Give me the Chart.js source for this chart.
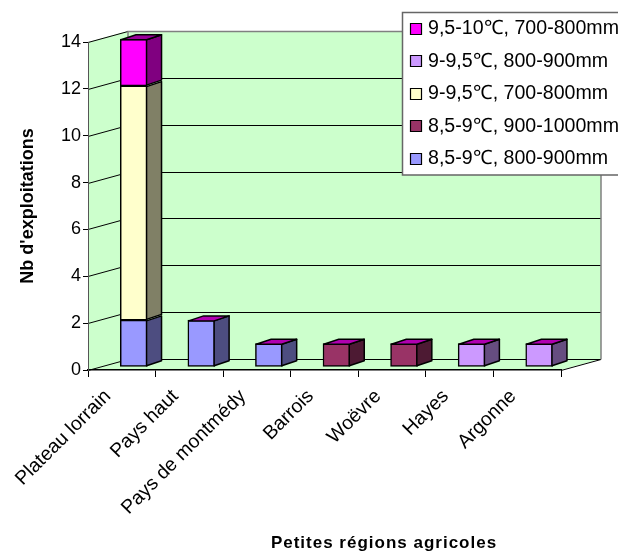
<!DOCTYPE html>
<html>
<head>
<meta charset="utf-8">
<style>html,body{margin:0;padding:0;background:#fff}canvas{display:block}</style>
<script src="https://cdn.jsdelivr.net/npm/chart.js@4/dist/chart.umd.js"></script>
</head>
<body>
<div style="width:618px;height:552px"><canvas id="c" width="618" height="552"></canvas></div>
<script>
// Farm counts per small agricultural region, split by climate class
const regions = ['Plateau lorrain','Pays haut','Pays de montmédy','Barrois','Woëvre','Hayes','Argonne'];
const blue800   = [2, 2, 1, null, null, null, null];
const maroon900 = [null, null, null, 1, 1, null, null];
const yellow700 = [10, null, null, null, null, null, null];
const lilac800  = [null, null, null, null, null, 1, 1];
const magenta700 = [2, null, null, null, null, null, null];
const seriesNames = ['8,5-9℃, 800-900mm','8,5-9℃, 900-1000mm','9-9,5℃, 700-800mm','9-9,5℃, 800-900mm','9,5-10℃, 700-800mm'];
const seriesValues = [blue800, maroon900, yellow700, lilac800, magenta700];
const frontColors = ['#9999FF','#993366','#FFFFCC','#CC99FF','#FF00FF'];
const sideColors  = ['#4D4D80','#4D1A33','#808066','#664D80','#800080'];
const topColor = '#B000B0';
const yTicks = [0,2,4,6,8,10,12,14];
const xTitle = 'Petites régions agricoles';
const yTitle = "Nb d'exploitations";

const FONT = '"Liberation Sans", Arial, sans-serif';
const DEPTH = {x: 40, y: -11};          // box depth of the walls
const BAR_SHIFT = {x: 12, y: -3};       // bars stand mid-way along the floor
const BAR_DEPTH = {x: 15, y: -5};       // depth of each bar

// Back wall, left wall, floor and their gridlines, under the axes
const walls = {
  id: 'walls',
  beforeDraw(chart) {
    const {ctx, chartArea: a, scales: {y}} = chart;
    const bx = a.left + DEPTH.x, br = a.right + DEPTH.x;
    const top = a.top + DEPTH.y, bot = a.bottom + DEPTH.y;
    ctx.save();
    ctx.fillStyle = '#CCFFCC';
    ctx.beginPath();
    ctx.moveTo(a.left, a.top); ctx.lineTo(bx, top); ctx.lineTo(br, top); ctx.lineTo(br, bot);
    ctx.lineTo(a.right, a.bottom); ctx.lineTo(a.left, a.bottom); ctx.closePath();
    ctx.fill();
    ctx.lineWidth = 1; ctx.strokeStyle = '#000';
    yTicks.forEach(v => {
      const p = Math.round(y.getPixelForValue(v)) + 0.5;
      ctx.beginPath();
      ctx.moveTo(a.left, p); ctx.lineTo(bx, p + DEPTH.y);
      if (v !== 14) ctx.lineTo(br, p + DEPTH.y);
      ctx.stroke();
    });
    ctx.beginPath();
    ctx.moveTo(a.right, a.bottom + 0.5); ctx.lineTo(br, bot + 0.5);
    ctx.stroke();
    ctx.strokeStyle = '#808080';
    ctx.lineWidth = 1.5;
    ctx.beginPath();
    ctx.moveTo(bx, bot); ctx.lineTo(bx, top + 0.5); ctx.lineTo(br, top + 0.5); ctx.lineTo(br, bot + 0.5);
    ctx.stroke();
    ctx.restore();
  }
};

// Shifts each front face onto the floor and adds its side and top faces
const bars3d = {
  id: 'bars3d',
  beforeDatasetDraw(chart) {
    chart.ctx.save();
    chart.ctx.translate(BAR_SHIFT.x, BAR_SHIFT.y);
  },
  afterDatasetDraw(chart, args) {
    const ctx = chart.ctx;
    const i = args.index;
    const values = seriesValues[i];
    args.meta.data.forEach((el, k) => {
      if (values[k] === null) return;
      const {x, y, base, width} = el.getProps(['x','y','base','width'], true);
      const r = x + width / 2 - 0.75, l = x - width / 2 + 0.75;
      const t = y + 0.75, b = base - 0.75;
      ctx.lineWidth = 1.5; ctx.strokeStyle = '#000'; ctx.lineJoin = 'round';
      ctx.fillStyle = sideColors[i];
      ctx.beginPath();
      ctx.moveTo(r, t); ctx.lineTo(r + BAR_DEPTH.x, t + BAR_DEPTH.y);
      ctx.lineTo(r + BAR_DEPTH.x, b + BAR_DEPTH.y); ctx.lineTo(r, b); ctx.closePath();
      ctx.fill(); ctx.stroke();
      // only the uppermost segment of a stack shows its top face
      const covered = seriesValues.some((s, j) => j > i && s[k] !== null);
      if (covered) return;
      ctx.fillStyle = i === 4 ? '#990099' : topColor;
      ctx.beginPath();
      ctx.moveTo(l, t); ctx.lineTo(l + BAR_DEPTH.x, t + BAR_DEPTH.y);
      ctx.lineTo(r + BAR_DEPTH.x, t + BAR_DEPTH.y); ctx.lineTo(r, t); ctx.closePath();
      ctx.fill(); ctx.stroke();
    });
    ctx.restore();
  }
};

// Legend box laid over the top right corner, plus the category axis title
const overlay = {
  id: 'overlay',
  afterDraw(chart) {
    const ctx = chart.ctx;
    ctx.save();
    ctx.fillStyle = '#fff'; ctx.strokeStyle = '#666'; ctx.lineWidth = 1.5;
    ctx.beginPath(); ctx.rect(402.5, 12.5, 240, 162.5); ctx.fill(); ctx.stroke();
    ctx.font = '19.6px ' + FONT;
    ctx.textBaseline = 'middle';
    const count = seriesNames.length;
    for (let n = 0; n < count; n++) {
      const idx = count - 1 - n;
      const cy = 28.5 + n * 32.6;
      ctx.fillStyle = frontColors[idx];
      ctx.strokeStyle = '#000'; ctx.lineWidth = 1.2;
      ctx.beginPath(); ctx.rect(410.5, Math.round(cy) - 5.5, 11, 11); ctx.fill(); ctx.stroke();
      ctx.fillStyle = '#000';
      ctx.fillText(seriesNames[idx], 428, cy);
    }
    ctx.font = 'bold 17px ' + FONT;
    ctx.letterSpacing = '1px';
    ctx.textAlign = 'center';
    ctx.fillText(xTitle, 384, 543);
    ctx.restore();
  }
};

new Chart(document.getElementById('c'), {
  type: 'bar',
  data: {
    labels: regions,
    datasets: seriesNames.map((name, i) => ({
      label: name,
      data: seriesValues[i],
      backgroundColor: frontColors[i],
      borderColor: '#000',
      borderWidth: 1.5,
      borderSkipped: false,
      barThickness: 27,
      clip: false
    }))
  },
  options: {
    responsive: false,
    animation: false,
    layout: {padding: {left: 0, top: 42, right: 57, bottom: 0}},
    plugins: {legend: {display: false}, tooltip: {enabled: false}},
    scales: {
      x: {
        stacked: true,
        afterFit(s) { s.height = 182; },
        grid: {drawOnChartArea: false, color: '#000', tickLength: 7, offset: true},
        border: {color: '#000', width: 1.5},
        ticks: {
          autoSkip: false, minRotation: 45, maxRotation: 45, color: '#000', padding: 8,
          labelOffset: -14, font: {family: FONT, size: 19.5}
        }
      },
      y: {
        stacked: true, min: 0, max: 14,
        afterFit(s) { s.width = 88; },
        grid: {drawOnChartArea: false, color: '#000', tickLength: 5},
        border: {color: '#555', width: 1},
        title: {display: true, text: yTitle, color: '#000', padding: {top: 17, bottom: 0},
                font: {family: FONT, size: 18, weight: 'bold'}},
        ticks: {stepSize: 2, color: '#000', padding: 2, font: {family: FONT, size: 18}}
      }
    }
  },
  plugins: [walls, bars3d, overlay]
});
</script>
</body>
</html>
